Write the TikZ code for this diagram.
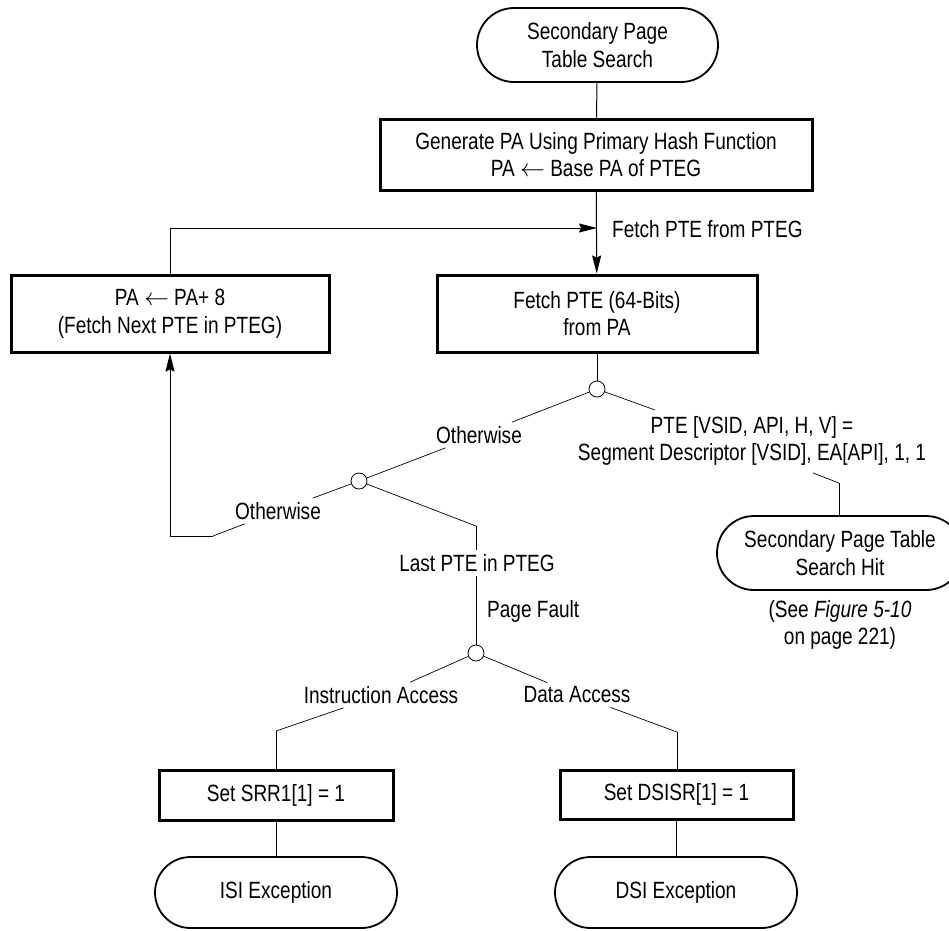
\documentclass[tikz,border=0pt]{standalone}
\usepackage{fontspec}
\setmainfont{Liberation Sans}[FakeStretch=0.81]
\usetikzlibrary{arrows.meta}
\begin{document}
\begin{tikzpicture}[x=1pt,y=-1pt,
  font=\fontsize{23.5}{27.5}\selectfont,
  term/.style={draw, line width=1.8pt, align=center, inner sep=0pt},
  procbox/.style={draw, line width=3pt, align=center, inner sep=0pt},
  dec/.style={circle, draw, line width=0.8pt, minimum size=16pt, inner sep=0pt},
  lbl/.style={inner sep=4pt, align=center},
  conn/.style={line width=1pt},
  thinln/.style={line width=0.7pt},
  arr/.style={-{Stealth[length=18pt,width=9pt,inset=2pt]}}]
\useasboundingbox (0,0) rectangle (949,930);

% nodes
\node[term, minimum width=241pt, minimum height=74pt, rounded corners=37pt] (start) at (597.5,45) {Secondary Page\\Table Search};
\node[procbox, minimum width=432pt, minimum height=71pt] (gen) at (596,154.5) {Generate PA Using Primary Hash Function\\PA $\leftarrow$ Base PA of PTEG};
\node[procbox, minimum width=320pt, minimum height=77pt] (fetch) at (597,313.5) {Fetch PTE (64-Bits)\\from PA};
\node[procbox, minimum width=318pt, minimum height=77pt] (next) at (170,313.5) {PA $\leftarrow$ PA+ 8\\(Fetch Next PTE in PTEG)};
\node[dec] (c1) at (597,389) {};
\node[dec] (c2) at (359,481) {};
\node[dec] (c3) at (476,653) {};
\node[lbl, anchor=west] (fl) at (608,229) {Fetch PTE from PTEG};
\node[lbl] (o1) at (479,435) {Otherwise};
\node[lbl] (pte) at (752,441) {PTE [VSID, API, H, V] =\\Segment Descriptor [VSID], EA[API], 1, 1};
\node[lbl] (o2) at (278,511) {Otherwise};
\node[lbl] (last) at (477,563) {Last PTE in PTEG};
\node[lbl, anchor=west] (pf) at (483,611) {Page Fault};
\node[lbl] (ia) at (381,695) {Instruction Access};
\node[lbl] (da) at (577,695) {Data Access};
\node[term, minimum width=246pt, minimum height=74pt, rounded corners=37pt] (hit) at (840,553) {Secondary Page Table\\Search Hit};
\node[lbl] (see) at (840,625) {(See \textit{Figure 5-10}\\on page 221)};
\node[procbox, minimum width=234pt, minimum height=50pt] (srr) at (276,795) {Set SRR1[1] = 1};
\node[procbox, minimum width=233pt, minimum height=49pt] (dsisr) at (676.5,794.5) {Set DSISR[1] = 1};
\node[term, minimum width=242pt, minimum height=71pt, rounded corners=35.5pt] (isi) at (276,892.5) {ISI Exception};
\node[term, minimum width=242pt, minimum height=71pt, rounded corners=35.5pt] (dsi) at (676,892.5) {DSI Exception};

% helper coordinates
\coordinate (j) at (597,228);
\coordinate (p0) at (655,410);
\coordinate (p1) at (813,473);
\coordinate (p2) at (839,483);
\coordinate (k) at (213,536);
\coordinate (m) at (476,526);
\coordinate (n) at (276,731);
\coordinate (q) at (677,732);

% connectors
\draw[conn] (start) -- (gen);
\draw[conn, arr] (gen) -- (fetch);
\draw[conn, arr] (next.north) |- (j);
\draw[conn] (fetch) -- (c1);
\draw[thinln] (c1) -- (o1);
\draw[thinln] (o1) -- (c2);
\draw[thinln] (c1) -- (p0);
\draw[thinln] (p1) -- (p2);
\draw[conn] (p2) -- (p2 |- hit.north);
\draw[thinln] (c2) -- (o2);
\draw[thinln] (o2) -- (k);
\draw[conn, arr] (k) -| (next.south);
\draw[thinln] (c2) -- (m);
\draw[conn] (m) -- (m |- last.north);
\draw[conn] (last.south -| c3) -- (c3);
\draw[thinln] (c3) -- (ia);
\draw[thinln] (ia) -- (n);
\draw[conn] (n) -- (n |- srr.north);
\draw[thinln] (c3) -- (da);
\draw[thinln] (da) -- (q);
\draw[conn] (q) -- (q |- dsisr.north);
\draw[conn] (srr) -- (isi);
\draw[conn] (dsisr.south -| dsi) -- (dsi);
\end{tikzpicture}
\end{document}
